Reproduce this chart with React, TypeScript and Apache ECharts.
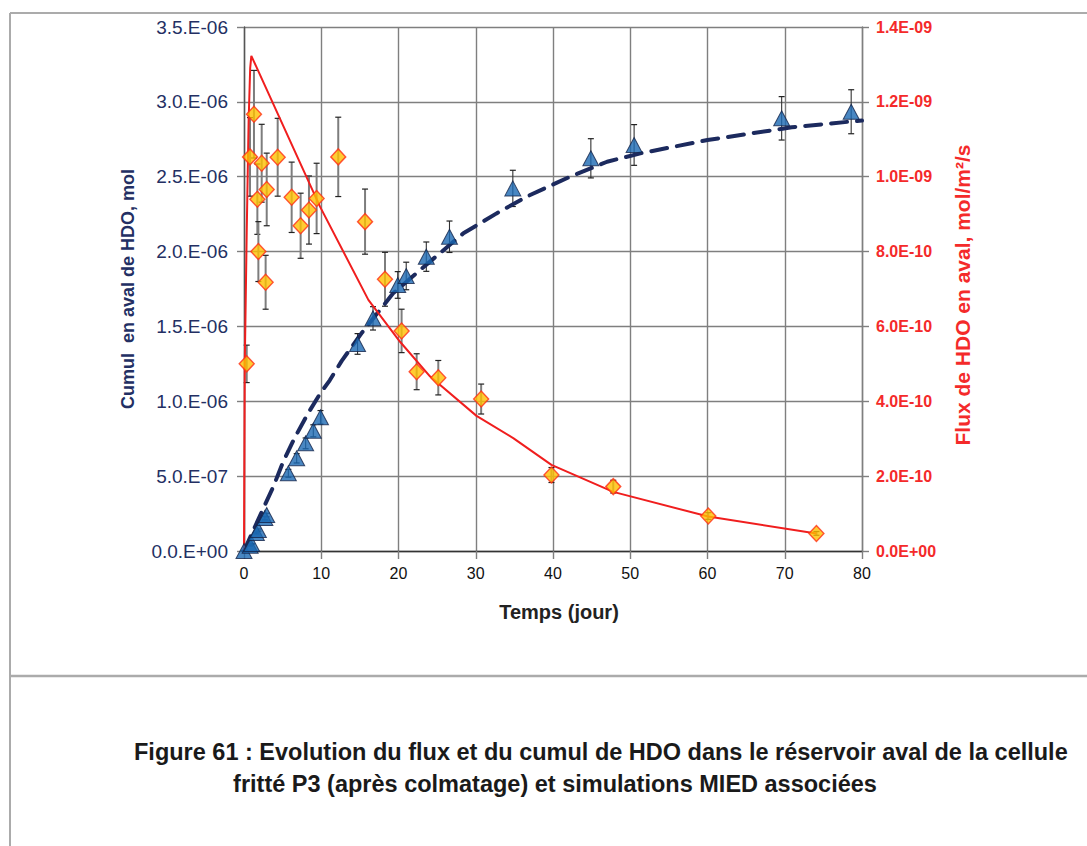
import React, { useEffect, useRef } from "react";
import * as echarts from "echarts";

// ---- Data ----
// Measured cumulative HDO (left axis, unit 1e-6 mol)
const cumDays = [0, 0.8, 1.0, 1.6, 1.86, 2.7, 2.94, 5.74, 6.82, 7.98, 8.97, 9.9, 14.7, 16.7, 19.9, 21.0, 23.6, 26.6, 34.8, 44.9, 50.5, 69.6, 78.6];
const cumValues = [0, 0.035, 0.047, 0.12, 0.14, 0.22, 0.24, 0.519, 0.619, 0.719, 0.803, 0.893, 1.383, 1.554, 1.777, 1.837, 1.966, 2.099, 2.422, 2.623, 2.712, 2.89, 2.934];
const cumErrors = [0, 0.002, 0.002, 0.006, 0.007, 0.011, 0.012, 0.026, 0.031, 0.036, 0.04, 0.045, 0.069, 0.078, 0.089, 0.092, 0.098, 0.105, 0.121, 0.131, 0.136, 0.145, 0.147];

// Simulated cumulative (MIED), unit 1e-6 mol
const simCumDays = [0, 2.5, 3.8, 5.1, 6.6, 8.3, 9.84, 11.1, 12.65, 15.2, 19.3, 22.8, 28.4, 32.7, 36.6, 42.2, 47, 51.3, 60, 70.9, 78.4, 80];
const simCumValues = [0, 0.285, 0.43, 0.6, 0.76, 0.92, 1.05, 1.14, 1.27, 1.454, 1.721, 1.877, 2.122, 2.255, 2.367, 2.5, 2.6, 2.656, 2.745, 2.83, 2.868, 2.875];

// Measured flux (right axis, unit 1e-9 mol/m2/s)
const fluxDays = [0.35, 0.78, 1.29, 1.73, 1.86, 2.29, 2.8, 2.94, 4.36, 6.17, 7.33, 8.41, 9.4, 12.2, 15.67, 18.25, 20.4, 22.35, 25.15, 30.7, 39.8, 47.8, 60.1, 74.1];
const fluxValues = [0.5, 1.053, 1.167, 0.94, 0.8, 1.036, 0.718, 0.966, 1.052, 0.945, 0.869, 0.911, 0.942, 1.053, 0.88, 0.726, 0.588, 0.479, 0.463, 0.406, 0.203, 0.172, 0.0935, 0.047];
const fluxErrors = [0.05, 0.105, 0.117, 0.094, 0.08, 0.104, 0.072, 0.097, 0.104, 0.094, 0.087, 0.091, 0.094, 0.106, 0.087, 0.072, 0.058, 0.048, 0.046, 0.04, 0.02, 0.017, 0.009, 0.005];

// Simulated flux (MIED), unit 1e-9
const simFluxDays = [0, 0.1, 0.35, 0.6, 0.8, 0.95, 9.84, 16.1, 20.2, 24.1, 30.1, 34.9, 39.8, 47.8, 60.1, 74.1];
const simFluxValues = [0, 0.5, 0.85, 1.15, 1.29, 1.323, 0.92, 0.671, 0.559, 0.466, 0.361, 0.301, 0.23, 0.158, 0.092, 0.047];

// Tick labels
const leftTickLabels = ["0.0.E+00", "5.0.E-07", "1.0.E-06", "1.5.E-06", "2.0.E-06", "2.5.E-06", "3.0.E-06", "3.5.E-06"];
const rightTickLabels = ["0.0E+00", "2.0E-10", "4.0E-10", "6.0E-10", "8.0E-10", "1.0E-09", "1.2E-09", "1.4E-09"];

const xTitle = "Temps (jour)";
const leftTitle = "Cumul  en aval de HDO, mol";
const rightTitle = "Flux de HDO en aval, mol/m²/s";
const captionLine1 = "Figure 61 : Evolution du flux et du cumul de HDO dans le réservoir aval de la cellule";
const captionLine2 = "fritté P3 (après colmatage) et simulations MIED associées";

const FONT = "'Liberation Sans', Arial, sans-serif";

function errorBarSeries(days: number[], vals: number[], errs: number[], yAxisIndex: number, stemColor: string, stemWidth: number) {
  return {
    type: "custom",
    yAxisIndex,
    z: 1,
    silent: true,
    encode: { x: 0, y: [1, 2] },
    data: days.map((d, i) => [d, vals[i] - errs[i], vals[i] + errs[i]]),
    renderItem: (_params: any, api: any) => {
      const x = api.value(0);
      const top = api.coord([x, api.value(2)]);
      const bot = api.coord([x, api.value(1)]);
      const cap = 3;
      const capStyle = { stroke: "#222", lineWidth: 1.2 };
      return {
        type: "group",
        children: [
          { type: "line", shape: { x1: top[0], y1: top[1], x2: bot[0], y2: bot[1] }, style: { stroke: stemColor, lineWidth: stemWidth } },
          { type: "line", shape: { x1: top[0] - cap, y1: top[1], x2: top[0] + cap, y2: top[1] }, style: capStyle },
          { type: "line", shape: { x1: bot[0] - cap, y1: bot[1], x2: bot[0] + cap, y2: bot[1] }, style: capStyle },
        ],
      };
    },
  };
}

export default function App() {
  const ref = useRef<HTMLDivElement>(null);

  useEffect(() => {
    document.body.style.margin = "0";
    const chart = echarts.init(ref.current!, null, { renderer: "svg" });
    const gridColor = "#7f7f7f";
    const option: any = {
      animation: false,
      backgroundColor: "#ffffff",
      grid: { left: 244, right: 225, top: 27, bottom: 295, containLabel: false },
      xAxis: {
        type: "value",
        min: 0,
        max: 80,
        interval: 10,
        axisLine: { show: true, onZero: false, lineStyle: { color: "#333", width: 1.4 } },
        axisTick: { show: true, inside: false, length: 8, lineStyle: { color: gridColor, width: 1.4 } },
        axisLabel: { margin: 14, fontSize: 16, color: "#111", fontFamily: FONT },
        splitLine: { show: true, lineStyle: { color: gridColor, width: 1.4 } },
      },
      yAxis: [
        {
          type: "value",
          min: 0,
          max: 3.5,
          interval: 0.5,
          position: "left",
          axisLine: { show: true, onZero: false, lineStyle: { color: "#555", width: 1.4 } },
          axisTick: { show: true, inside: false, length: 7, lineStyle: { color: gridColor, width: 1.4 } },
          axisLabel: {
            margin: 16,
            fontSize: 19,
            color: "#232f63",
            fontFamily: FONT,
            formatter: (v: number) => leftTickLabels[Math.round(v / 0.5)],
          },
          splitLine: { show: true, lineStyle: { color: gridColor, width: 1.4 } },
        },
        {
          type: "value",
          min: 0,
          max: 1.4,
          interval: 0.2,
          position: "right",
          axisLine: { show: true, onZero: false, lineStyle: { color: gridColor, width: 1.4 } },
          axisTick: { show: true, inside: false, length: 7, lineStyle: { color: gridColor, width: 1.4 } },
          axisLabel: {
            margin: 14,
            fontSize: 16,
            fontWeight: "bold",
            color: "#f42a2a",
            fontFamily: FONT,
            formatter: (v: number) => rightTickLabels[Math.round(v / 0.2)],
          },
          splitLine: { show: false },
        },
      ],
      series: [
        errorBarSeries(cumDays, cumValues, cumErrors, 0, "#333", 1.1),
        errorBarSeries(fluxDays, fluxValues, fluxErrors, 1, "#7d7d7d", 2),
        {
          type: "line",
          yAxisIndex: 0,
          z: 2,
          showSymbol: false,
          symbol: "none",
          data: simCumDays.map((d, i) => [d, simCumValues[i]]),
          lineStyle: { color: "#1c2a5e", width: 4, type: [16, 10], cap: "round" },
        },
        {
          type: "line",
          yAxisIndex: 1,
          z: 2,
          showSymbol: false,
          symbol: "none",
          data: simFluxDays.map((d, i) => [d, simFluxValues[i]]),
          lineStyle: { color: "#f01e1e", width: 2 },
        },
        {
          type: "scatter",
          yAxisIndex: 0,
          z: 3,
          symbol: "triangle",
          symbolSize: [16, 15],
          data: cumDays.map((d, i) => [d, cumValues[i]]),
          itemStyle: { color: "#1b69b3", borderColor: "#14244a", borderWidth: 1 },
        },
        {
          type: "scatter",
          yAxisIndex: 1,
          z: 4,
          symbol: "diamond",
          symbolSize: [15, 16],
          data: fluxDays.map((d, i) => [d, fluxValues[i]]),
          itemStyle: { color: "#ffbf00", borderColor: "#ff3015", borderWidth: 1.4 },
        },
      ],
      graphic: [
        { type: "line", shape: { x1: 10, y1: 13, x2: 1087, y2: 13 }, style: { stroke: "#ababab", lineWidth: 2 } },
        { type: "line", shape: { x1: 10, y1: 13, x2: 10, y2: 846 }, style: { stroke: "#ababab", lineWidth: 2 } },
        { type: "line", shape: { x1: 10, y1: 676, x2: 1087, y2: 676 }, style: { stroke: "#ababab", lineWidth: 2.5 } },
        {
          type: "text",
          x: 559,
          y: 612,
          style: { text: xTitle, font: `bold 20px ${FONT}`, fill: "#222", align: "center", verticalAlign: "middle" },
        },
        {
          type: "text",
          x: 128,
          y: 289,
          rotation: Math.PI / 2,
          style: { text: leftTitle, font: `bold 18px ${FONT}`, fill: "#232f63", align: "center", verticalAlign: "middle" },
        },
        {
          type: "text",
          x: 962,
          y: 295,
          rotation: Math.PI / 2,
          style: { text: rightTitle, font: `bold 21px ${FONT}`, fill: "#f42a2a", align: "center", verticalAlign: "middle" },
        },
        {
          type: "text",
          x: 134,
          y: 752,
          style: { text: captionLine1, font: `bold 23.5px ${FONT}`, fill: "#1a1a1a", align: "left", verticalAlign: "middle" },
        },
        {
          type: "text",
          x: 555,
          y: 784,
          style: { text: captionLine2, font: `bold 23.5px ${FONT}`, fill: "#1a1a1a", align: "center", verticalAlign: "middle" },
        },
      ],
    };
    chart.setOption(option);
    return () => chart.dispose();
  }, []);

  return <div ref={ref} style={{ width: 1087, height: 846, position: "absolute", left: 0, top: 0 }} />;
}
